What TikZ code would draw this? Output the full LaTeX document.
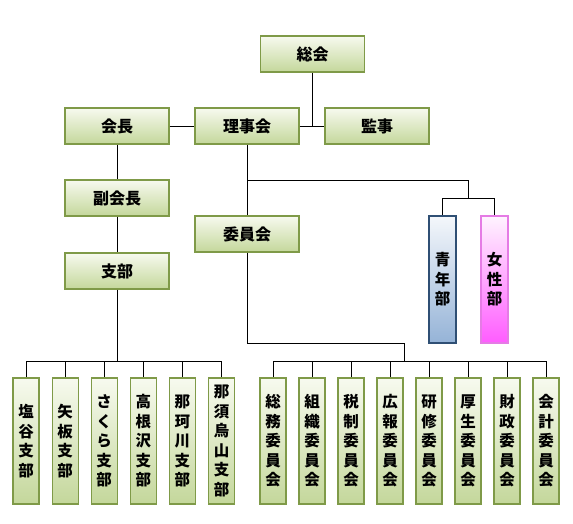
\documentclass[tikz,border=0pt]{standalone}
\usepackage{fontspec}
\setmainfont{Noto Sans CJK JP}
\definecolor{gtop}{HTML}{F7FAEF}
\definecolor{gbot}{HTML}{C4D79B}
\definecolor{gline}{HTML}{7F9A48}
\definecolor{btop}{HTML}{F4F7FB}
\definecolor{bbot}{HTML}{95B3D7}
\definecolor{bline}{HTML}{2F4F74}
\definecolor{ptop}{HTML}{FFF4FF}
\definecolor{pbot}{HTML}{FF5CFF}
\definecolor{pline}{HTML}{E57BE5}
\tikzset{
  hbox/.style={rectangle, draw=gline, line width=1.1pt, top color=gtop, bottom color=gbot,
    minimum width=104pt, minimum height=36pt, inner sep=0pt,
    font=\fontsize{16}{19.5}\selectfont\bfseries},
  vbox/.style={rectangle, draw=gline, line width=1.1pt, top color=gtop, bottom color=gbot,
    minimum width=26pt, minimum height=126pt, inner sep=0pt, align=center,
    font=\fontsize{15.5}{19.5}\selectfont\bfseries},
  bluebox/.style={vbox, draw=bline, top color=btop, bottom color=bbot, minimum width=27pt, minimum height=127pt},
  pinkbox/.style={vbox, draw=pline, top color=ptop, bottom color=pbot, minimum width=27pt, minimum height=127pt},
  conn/.style={draw=black, line width=1pt}
}
\begin{document}
\begin{tikzpicture}[x=1pt,y=-1pt]
\useasboundingbox (0,0) rectangle (573,523);
\node[hbox] (soukai) at (312.5,54) {総会};
\node[hbox] (kaicho) at (117,126) {会長};
\node[hbox] (rijikai) at (247,126) {理事会};
\node[hbox] (kanji) at (377,126) {監事};
\node[hbox] (fuku) at (117,198) {副会長};
\node[hbox] (iinkai) at (247,234) {委員会};
\node[hbox] (shibu) at (117,271) {支部};
\node[bluebox] (seinen) at (442.5,279.5) {青\\年\\部};
\node[pinkbox] (josei) at (494.5,279.5) {女\\性\\部};
% branches
\node[vbox] (b1) at (26,441) {塩\\谷\\支\\部};
\node[vbox] (b2) at (65.1,441) {矢\\板\\支\\部};
\node[vbox] (b3) at (104.2,441) {さ\\く\\ら\\支\\部};
\node[vbox] (b4) at (143.3,441) {高\\根\\沢\\支\\部};
\node[vbox] (b5) at (182.4,441) {那\\珂\\川\\支\\部};
\node[vbox] (b6) at (221.5,441) {那\\須\\烏\\山\\支\\部};
% committees
\node[vbox] (c1) at (273,441) {総\\務\\委\\員\\会};
\node[vbox] (c2) at (312,441) {組\\織\\委\\員\\会};
\node[vbox] (c3) at (351,441) {税\\制\\委\\員\\会};
\node[vbox] (c4) at (390,441) {広\\報\\委\\員\\会};
\node[vbox] (c5) at (429,441) {研\\修\\委\\員\\会};
\node[vbox] (c6) at (468,441) {厚\\生\\委\\員\\会};
\node[vbox] (c7) at (507,441) {財\\政\\委\\員\\会};
\node[vbox] (c8) at (546,441) {会\\計\\委\\員\\会};
% coordinates
\coordinate (jrk) at (soukai.south |- rijikai.east);
\coordinate (ya) at (247,180);
\coordinate (yb) at (468,180);
\coordinate (yc) at (468,198);
\coordinate (yl) at (seinen.north |- yc);
\coordinate (yr) at (josei.north |- yc);
\coordinate (sb) at (117,361);
\coordinate (sl) at (b1.north |- sb);
\coordinate (sr) at (b6.north |- sb);
\coordinate (ia) at (247,343);
\coordinate (ib) at (404,343);
\coordinate (ic) at (404,361);
\coordinate (il) at (c1.north |- ic);
\coordinate (ir) at (c8.north |- ic);
% connectors
\draw[conn] (soukai.south) -- (jrk);
\draw[conn] (rijikai.east) -- (kanji.west);
\draw[conn] (kaicho.east) -- (rijikai.west);
\draw[conn] (kaicho.south) -- (fuku.north);
\draw[conn] (fuku.south) -- (shibu.north);
\draw[conn] (rijikai.south) -- (iinkai.north);
\draw[conn] (ya) -- (yb) -- (yc);
\draw[conn] (yl) -- (yr);
\draw[conn] (yl) -- (seinen.north);
\draw[conn] (yr) -- (josei.north);
\draw[conn] (shibu.south) -- (sb);
\draw[conn] (sl) -- (sr);
\foreach \n in {b1,b2,b3,b4,b5,b6} { \draw[conn] (\n.north |- sb) -- (\n.north); }
\draw[conn] (iinkai.south) -- (ia) -- (ib) -- (ic);
\draw[conn] (il) -- (ir);
\foreach \n in {c1,c2,c3,c4,c5,c6,c7,c8} { \draw[conn] (\n.north |- ic) -- (\n.north); }
\end{tikzpicture}
\end{document}
